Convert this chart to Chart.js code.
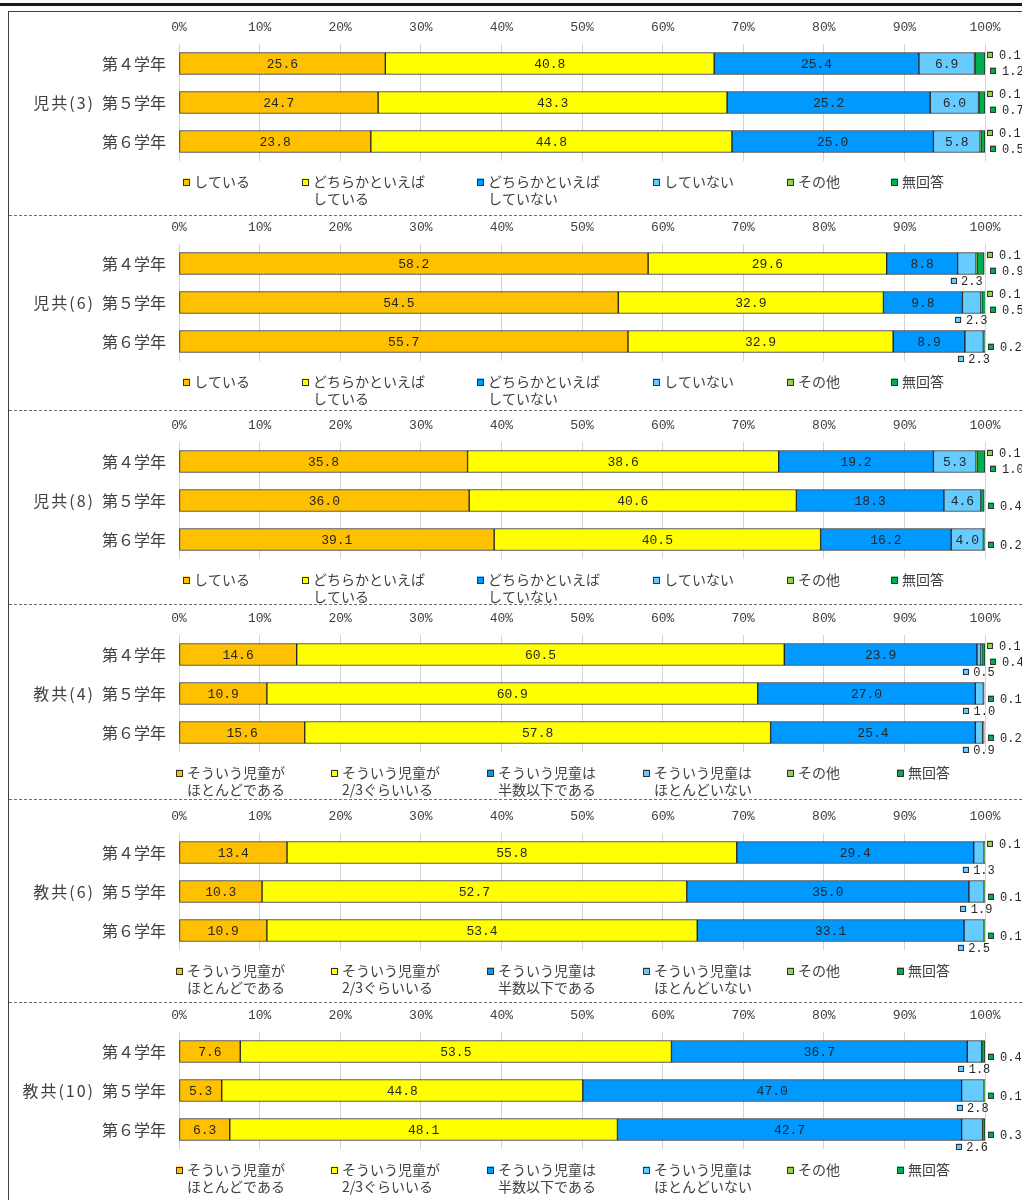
<!DOCTYPE html>
<html lang="ja">
<head>
<meta charset="utf-8">
<script src="https://cdn.jsdelivr.net/npm/chart.js@4.4.1/dist/chart.umd.min.js"></script>
<style>
  body { margin: 0; background: #fff; }
  #page { position: relative; width: 1022px; height: 1200px; overflow: hidden; }
  #page canvas { position: absolute; left: 0; }
  .topline { position: absolute; left: 0; top: 3px; width: 1022px; height: 3px; background: #1a1a1a; }
  .frame { position: absolute; left: 8px; top: 11px; width: 1100px; height: 1300px;
           border-left: 1px solid #404040; border-top: 1px solid #404040; }
  .sep { position: absolute; left: 9px; width: 1013px; border-top: 1px dashed #707070; }
</style>
</head>
<body>
<div id="page">
  <div class="topline"></div>
  <div class="frame"></div>
</div>
<script>
const grades = ['第４学年', '第５学年', '第６学年'];

const answersJi = ['している', 'どちらかといえば\nしている', 'どちらかといえば\nしていない', 'していない', 'その他', '無回答'];
const answersKyo = ['そういう児童が\nほとんどである', 'そういう児童が\n2/3ぐらいいる', 'そういう児童は\n半数以下である', 'そういう児童は\nほとんどいない', 'その他', '無回答'];

// rows: 第4, 第5, 第6学年 / columns follow the answer order
const jikyo3 = [
  [25.6, 40.8, 25.4, 6.9, 0.1, 1.2],
  [24.7, 43.3, 25.2, 6.0, 0.1, 0.7],
  [23.8, 44.8, 25.0, 5.8, 0.1, 0.5]
];
const jikyo6 = [
  [58.2, 29.6, 8.8, 2.3, 0.1, 0.9],
  [54.5, 32.9, 9.8, 2.3, 0.1, 0.5],
  [55.7, 32.9, 8.9, 2.3, 0, 0.2]
];
const jikyo8 = [
  [35.8, 38.6, 19.2, 5.3, 0.1, 1.0],
  [36.0, 40.6, 18.3, 4.6, 0, 0.4],
  [39.1, 40.5, 16.2, 4.0, 0, 0.2]
];
const kyokyo4 = [
  [14.6, 60.5, 23.9, 0.5, 0.1, 0.4],
  [10.9, 60.9, 27.0, 1.0, 0, 0.1],
  [15.6, 57.8, 25.4, 0.9, 0, 0.2]
];
const kyokyo6 = [
  [13.4, 55.8, 29.4, 1.3, 0.1, 0],
  [10.3, 52.7, 35.0, 1.9, 0, 0.1],
  [10.9, 53.4, 33.1, 2.5, 0, 0.1]
];
const kyokyo10 = [
  [7.6, 53.5, 36.7, 1.8, 0, 0.4],
  [5.3, 44.8, 47.0, 2.8, 0, 0.1],
  [6.3, 48.1, 42.7, 2.6, 0, 0.3]
];

const colors = ['#FFC000', '#FFFF00', '#0099FF', '#66CCFF', '#92D050', '#00B050'];

const layout = {
  chartTops: [44, 244, 442, 635, 833, 1032],
  dividers: [215, 410, 604, 799, 1002],
  legendXJi: [183, 302, 477, 653, 787, 891],
  legendXKyo: [176, 331, 487, 643, 787, 897]
};

const panels = [
  { title: '児共(3)', rows: jikyo3, answers: answersJi, legendX: layout.legendXJi },
  { title: '児共(6)', rows: jikyo6, answers: answersJi, legendX: layout.legendXJi },
  { title: '児共(8)', rows: jikyo8, answers: answersJi, legendX: layout.legendXJi },
  { title: '教共(4)', rows: kyokyo4, answers: answersKyo, legendX: layout.legendXKyo },
  { title: '教共(6)', rows: kyokyo6, answers: answersKyo, legendX: layout.legendXKyo },
  { title: '教共(10)', rows: kyokyo10, answers: answersKyo, legendX: layout.legendXKyo }
];

const JP = '"Noto Sans CJK JP", sans-serif';
const NUM = '"Liberation Mono", monospace';
const INK = '#404040';

function marker(ctx, cx, cy, size, color) {
  ctx.fillStyle = color;
  ctx.fillRect(cx - size / 2, cy - size / 2, size, size);
  ctx.strokeStyle = '#333';
  ctx.lineWidth = 1;
  ctx.strokeRect(Math.round(cx - size / 2) + 0.5, Math.round(cy - size / 2) + 0.5, size - 1, size - 1);
}

// grade / group labels, value labels and the legend under each panel
const panelDecor = {
  id: 'panelDecor',
  afterDatasetsDraw(chart, args, opts) {
    const ctx = chart.ctx;
    const area = chart.chartArea;
    const yScale = chart.scales.y;
    ctx.save();

    ctx.fillStyle = INK;
    ctx.font = '16px ' + JP;
    ctx.textAlign = 'right';
    ctx.textBaseline = 'middle';
    grades.forEach((g, j) => ctx.fillText(g, 166, yScale.getPixelForValue(j)));
    ctx.letterSpacing = '2px';
    ctx.fillText(opts.title, 95, yScale.getPixelForValue(1));
    ctx.letterSpacing = '0px';

    chart.data.datasets.forEach((ds, i) => {
      const meta = chart.getDatasetMeta(i);
      meta.data.forEach((bar, j) => {
        const v = ds.data[j];
        if (!v) return;
        const { x, y, base, height } = bar.getProps(['x', 'y', 'base', 'height'], true);
        const top = y - height / 2;
        const label = v.toFixed(1);
        ctx.textBaseline = 'middle';
        if (i < 3 || (i === 3 && v >= 3.5)) {
          ctx.font = '13px ' + NUM;
          ctx.fillStyle = '#262626';
          ctx.textAlign = 'center';
          ctx.fillText(label, (x + base) / 2, y + 1);
        } else if (i === 3) {
          ctx.font = '12px ' + NUM;
          const w = ctx.measureText(label).width;
          const left = (x + base) / 2 - (w + 10) / 2;
          const ly = top + height + 6;
          marker(ctx, left + 2.5, ly, 6, colors[3]);
          ctx.fillStyle = '#262626';
          ctx.textAlign = 'left';
          ctx.fillText(label, left + 10, ly + 1);
        } else {
          const both = chart.data.datasets[4].data[j] && chart.data.datasets[5].data[j];
          let mx, ly;
          if (i === 4) { mx = 990; ly = top + 2; }
          else if (both) { mx = 993; ly = y + 7; }
          else { mx = 991; ly = y + 5; }
          ctx.font = '12px ' + NUM;
          marker(ctx, mx, ly, 6, colors[i]);
          ctx.fillStyle = '#262626';
          ctx.textAlign = 'left';
          ctx.fillText(label, mx + 9, ly + 1);
        }
      });
    });

    ctx.font = '14px ' + JP;
    ctx.textAlign = 'left';
    ctx.textBaseline = 'middle';
    const ly = area.bottom + 21;
    opts.answers.forEach((a, i) => {
      const mx = opts.legendX[i];
      marker(ctx, mx + 3.5, ly, 7, colors[i]);
      ctx.fillStyle = INK;
      a.split('\n').forEach((line, n) => ctx.fillText(line, mx + 11, ly + n * 17));
    });

    ctx.restore();
  }
};

const page = document.getElementById('page');

layout.dividers.forEach(d => {
  const sep = document.createElement('div');
  sep.className = 'sep';
  sep.style.top = d + 'px';
  page.appendChild(sep);
});

panels.forEach((p, k) => {
  const canvas = document.createElement('canvas');
  canvas.width = 1022;
  canvas.height = 215;
  canvas.style.top = (layout.chartTops[k] - 44) + 'px';
  page.appendChild(canvas);

  new Chart(canvas.getContext('2d'), {
    type: 'bar',
    data: {
      labels: grades,
      datasets: p.answers.map((a, i) => ({
        label: a,
        data: p.rows.map(r => r[i]),
        backgroundColor: colors[i],
        borderColor: '#262626',
        borderWidth: c => (c.raw > 0 ? 1 : 0),
        borderSkipped: false,
        barThickness: 22
      }))
    },
    options: {
      indexAxis: 'y',
      responsive: false,
      animation: false,
      devicePixelRatio: 1,
      layout: { padding: { left: 179, right: 37, top: 0, bottom: 54 } },
      scales: {
        x: {
          position: 'top',
          stacked: true,
          min: 0,
          max: 100,
          afterFit: s => { s.height = 44; },
          ticks: {
            stepSize: 10,
            padding: 9,
            color: '#404040',
            font: { family: 'Liberation Mono', size: 13 },
            callback: v => v + '%'
          },
          grid: { color: '#d4d4d4', lineWidth: 1, drawTicks: false },
          border: { display: false }
        },
        y: { stacked: true, display: false }
      },
      plugins: {
        legend: { display: false },
        tooltip: { enabled: false },
        panelDecor: { title: p.title, answers: p.answers, legendX: p.legendX }
      }
    },
    plugins: [panelDecor]
  });
});
</script>
</body>
</html>
